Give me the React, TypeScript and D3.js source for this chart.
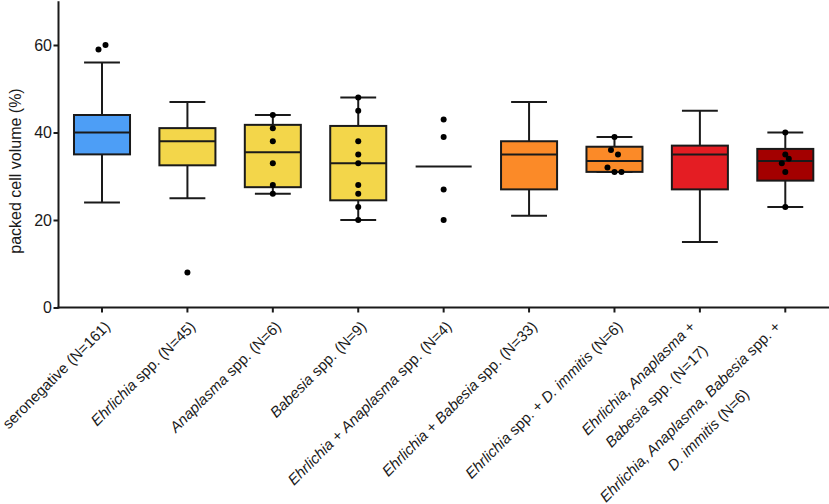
import React, { useEffect, useRef } from 'react';
import * as d3 from 'd3';

// ---------- data ----------
const categories: string[][] = [
  ['seronegative (N=161)'],
  ['*Ehrlichia* spp. (N=45)'],
  ['*Anaplasma* spp. (N=6)'],
  ['*Babesia* spp. (N=9)'],
  ['*Ehrlichia* + *Anaplasma* spp. (N=4)'],
  ['*Ehrlichia* + *Babesia* spp. (N=33)'],
  ['*Ehrlichia* spp. + *D. immitis* (N=6)'],
  ['*Ehrlichia, Anaplasma* +', '*Babesia* spp. (N=17)'],
  ['*Ehrlichia, Anaplasma, Babesia* spp. +', '*D. immitis* (N=6)'],
];

const whiskerHigh: (number | null)[] = [56, 47, 44, 48, null, 47, 39, 45, 40];
const q3: (number | null)[] = [44, 41, 41.75, 41.5, null, 38, 36.75, 37, 36.25];
const median: number[] = [40, 38, 35.5, 33, 32.25, 35, 33.5, 35, 33.5];
const q1: (number | null)[] = [35, 32.5, 27.5, 24.5, null, 27, 31, 27, 29];
const whiskerLow: (number | null)[] = [24, 25, 26, 20, null, 21, 31, 15, 23];

const points: number[][] = [
  [59, 60],
  [8],
  [44, 41, 38, 33, 28, 26],
  [48, 45, 38, 35, 33, 28, 26, 23, 20],
  [43, 39, 27, 20],
  [],
  [39, 36, 35, 32, 31, 31],
  [],
  [40, 35, 33, 34, 31, 23],
];

const fills = ['#4d9ef6', '#f3d64a', '#f3d64a', '#f3d64a', 'none', '#fb8a28', '#fb8a28', '#e41d23', '#a30000'];

const yTicks = [0, 20, 40, 60];
const yDomain: [number, number] = [0, 70];
const yTitle = 'packed cell volume (%)';

// ---------- layout ----------
const W = 829;
const H = 504;
const FONT = "'Liberation Sans', Arial, Helvetica, sans-serif";
const INK = '#1a1a1a';

function parseSegments(line: string): { t: string; it: boolean }[] {
  const parts = line.split('*');
  return parts.map((t, i) => ({ t, it: i % 2 === 1 })).filter((s) => s.t.length > 0);
}

export default function App() {
  const ref = useRef<SVGSVGElement>(null);

  useEffect(() => {
    const svg = d3.select(ref.current as SVGSVGElement);
    svg.selectAll('*').remove();

    const axisX = 58.5;
    const y = d3.scaleLinear().domain(yDomain).range([307.5, 1.25]);
    const x = d3
      .scaleBand<number>()
      .domain(categories.map((_, i) => i))
      .range([59.3, 828])
      .padding(0);
    const step = x.step();
    const boxW = step * 0.656;
    const capW = step * 0.42;
    const axisY = y(0);

    const g = svg.append('g');

    // boxes
    categories.forEach((_, i) => {
      const cx = (x(i) as number) + x.bandwidth() / 2;
      const grp = g.append('g');
      const hi = whiskerHigh[i], lo = whiskerLow[i], b3 = q3[i], b1 = q1[i];
      if (b3 != null && b1 != null) {
        grp
          .append('rect')
          .attr('x', cx - boxW / 2)
          .attr('y', y(b3))
          .attr('width', boxW)
          .attr('height', y(b1) - y(b3))
          .attr('fill', fills[i])
          .attr('stroke', INK)
          .attr('stroke-width', 2);
      }
      if (hi != null && b3 != null) {
        grp.append('line').attr('x1', cx).attr('x2', cx).attr('y1', y(hi)).attr('y2', y(b3))
          .attr('stroke', INK).attr('stroke-width', 2);
        grp.append('line').attr('x1', cx - capW / 2).attr('x2', cx + capW / 2).attr('y1', y(hi)).attr('y2', y(hi))
          .attr('stroke', INK).attr('stroke-width', 2);
      }
      if (lo != null && b1 != null) {
        grp.append('line').attr('x1', cx).attr('x2', cx).attr('y1', y(b1)).attr('y2', y(lo))
          .attr('stroke', INK).attr('stroke-width', 2);
        grp.append('line').attr('x1', cx - capW / 2).attr('x2', cx + capW / 2).attr('y1', y(lo)).attr('y2', y(lo))
          .attr('stroke', INK).attr('stroke-width', 2);
      }
      grp.append('line')
        .attr('x1', cx - boxW / 2).attr('x2', cx + boxW / 2)
        .attr('y1', y(median[i])).attr('y2', y(median[i]))
        .attr('stroke', INK).attr('stroke-width', 2);

      // swarm points: group close values into rows, spread horizontally
      const pts = points[i];
      if (pts.length) {
        const order = pts.map((v, k) => ({ v, k })).sort((a, b) => a.v - b.v || a.k - b.k);
        const rows: { v: number; k: number }[][] = [];
        let cur: { v: number; k: number }[] = [];
        let startY = 0;
        order.forEach((p) => {
          const py = y(p.v);
          if (cur.length && Math.abs(py - startY) < 6) cur.push(p);
          else {
            if (cur.length) rows.push(cur);
            cur = [p];
            startY = py;
          }
        });
        if (cur.length) rows.push(cur);
        rows.forEach((row) => {
          row.sort((a, b) => a.k - b.k);
          row.forEach((p, j) => {
            const off = (j - (row.length - 1) / 2) * 7;
            grp.append('circle').attr('cx', cx + off).attr('cy', y(p.v)).attr('r', 3).attr('fill', '#000');
          });
        });
      }
    });

    // y axis
    const yAxis = d3.axisLeft(y).tickValues(yTicks).tickSize(5).tickSizeOuter(0).tickPadding(1.5).tickFormat(d3.format('d'));
    const ya = svg.append('g').attr('transform', `translate(${axisX},0)`).call(yAxis);
    ya.select('.domain').remove();
    ya.selectAll('line').attr('stroke', INK).attr('stroke-width', 2);
    ya.selectAll('text').attr('font-family', FONT).attr('font-size', 16).attr('fill', INK);
    svg.append('line').attr('x1', axisX).attr('x2', axisX).attr('y1', y(yDomain[1])).attr('y2', axisY + 1)
      .attr('stroke', INK).attr('stroke-width', 2);

    // x axis
    const xAxis = d3.axisBottom(x).tickSize(5).tickSizeOuter(0).tickFormat(() => '');
    const xa = svg.append('g').attr('transform', `translate(0,${axisY})`).call(xAxis);
    xa.select('.domain').remove();
    xa.selectAll('line').attr('stroke', INK).attr('stroke-width', 2);
    svg.append('line').attr('x1', axisX - 1).attr('x2', W).attr('y1', axisY).attr('y2', axisY)
      .attr('stroke', INK).attr('stroke-width', 2);

    // x labels
    categories.forEach((lines, i) => {
      const cx = (x(i) as number) + x.bandwidth() / 2;
      const lg = svg.append('g').attr('transform', `translate(${cx + 9},${axisY + 20}) rotate(-45)`);
      const texts = lines.map((line) => {
        const t = lg.append('text')
          .attr('font-family', FONT).attr('font-size', 15).attr('fill', INK)
          .attr('text-anchor', 'end');
        parseSegments(line).forEach((s) => {
          t.append('tspan').attr('font-style', s.it ? 'italic' : 'normal').text(s.t);
        });
        return t;
      });
      if (texts.length === 1) {
        texts[0].attr('x', 0).attr('y', 0);
      } else {
        const widths = texts.map((t) => (t.node() as SVGTextElement).getComputedTextLength());
        const wMax = Math.max(...widths);
        texts.forEach((t, k) => {
          t.attr('x', -9 - (wMax - widths[k]) / 2).attr('y', -9 + k * 25.5);
        });
      }
    });

    // y title
    svg.append('text')
      .attr('transform', `translate(21,171) rotate(-90)`)
      .attr('text-anchor', 'middle')
      .attr('font-family', FONT).attr('font-size', 16).attr('fill', INK)
      .text(yTitle);
  }, []);

  return (
    <svg
      ref={ref}
      width={W}
      height={H}
      style={{ position: 'absolute', left: 0, top: 0, background: '#fff' }}
    />
  );
}
